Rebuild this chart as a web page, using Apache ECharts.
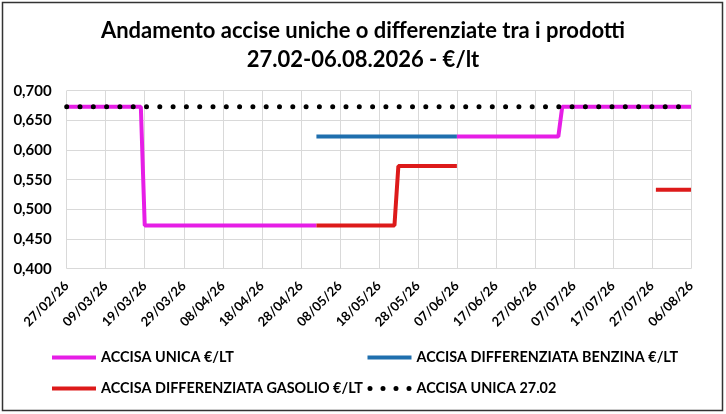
<!DOCTYPE html>
<html>
<head>
<meta charset="utf-8">
<script src="https://cdn.jsdelivr.net/npm/echarts@6/dist/echarts.min.js"></script>
<style>
  html, body { margin: 0; padding: 0; background: #fff; }
  #chart { width: 726px; height: 414px; }
</style>
</head>
<body>
<div id="chart"></div>
<script>
// etichette asse X (ogni 10 giorni)
var tickLabels = ['27/02/26','09/03/26','19/03/26','29/03/26','08/04/26','18/04/26','28/04/26','08/05/26','18/05/26',
                  '28/05/26','07/06/26','17/06/26','27/06/26','07/07/26','17/07/26','27/07/26','06/08/26'];

// ACCISA UNICA €/LT (null = interruzione)
var unicaDates  = ['27/02/26','18/03/26','19/03/26','02/05/26', null, '07/06/26','03/07/26','04/07/26','06/08/26'];
var unicaValues = [0.673, 0.673, 0.473, 0.473, null, 0.623, 0.623, 0.673, 0.673];

// ACCISA DIFFERENZIATA BENZINA €/LT
var benzinaDates  = ['02/05/26','07/06/26'];
var benzinaValues = [0.623, 0.623];

// ACCISA DIFFERENZIATA GASOLIO €/LT
var gasolioDates  = ['02/05/26','22/05/26','23/05/26','07/06/26', null, '28/07/26','06/08/26'];
var gasolioValues = [0.473, 0.473, 0.573, 0.573, null, 0.533, 0.533];

// ACCISA UNICA 27.02
var rifDates  = ['27/02/26','06/08/26'];
var rifValues = [0.673, 0.673];

var FONT = 'Lato';
var START = toUTC('27/02/26');

function toUTC(s) {
    var p = s.split('/');
    return Date.UTC(2000 + parseInt(p[2], 10), parseInt(p[1], 10) - 1, parseInt(p[0], 10));
}
// giorni dal 27/02
function toPoints(dates, values) {
    var out = [];
    for (var i = 0; i < dates.length; i++) {
        if (dates[i] === null || values[i] === null) { out.push(['-', '-']); continue; }
        out.push([Math.round((toUTC(dates[i]) - START) / 86400000), values[i]]);
    }
    return out;
}

var chart = echarts.init(document.getElementById('chart'));
var legendText = { fontFamily: FONT, fontWeight: 'bold', fontSize: 14.4, lineHeight: 16, color: '#000' };
// icona a puntini per la serie di riferimento
var dotIcon = 'path://M0,2.5a2.5,2.5 0 1,0 5,0a2.5,2.5 0 1,0 -5,0Z' +
              'M13,2.5a2.5,2.5 0 1,0 5,0a2.5,2.5 0 1,0 -5,0Z' +
              'M26,2.5a2.5,2.5 0 1,0 5,0a2.5,2.5 0 1,0 -5,0Z' +
              'M39,2.5a2.5,2.5 0 1,0 5,0a2.5,2.5 0 1,0 -5,0Z';
function legendAt(name, left, top, icon, h) {
    return {
        data: [{ name: name, icon: icon || 'rect' }],
        left: left, top: top, padding: 0,
        itemWidth: 44, itemHeight: h || 4, itemGap: 0,
        textStyle: legendText
    };
}

chart.setOption({
    animation: false,
    title: {
        text: 'Andamento accise uniche o differenziate tra i prodotti\n27.02-06.08.2026 - €/lt',
        left: 'center',
        top: 12,
        textStyle: { fontFamily: FONT, fontWeight: 'bold', fontSize: 22, lineHeight: 28.5, color: '#000' }
    },
    graphic: [{
        type: 'rect',
        shape: { x: 2.5, y: 2.5, width: 720, height: 408 },
        style: { fill: 'none', stroke: '#333', lineWidth: 1.5 },
        silent: true
    }],
    grid: { left: 66.7, right: 35, top: 90.7, bottom: 145.3 },
    legend: [
        legendAt('ACCISA UNICA €/LT', 52, 349.5),
        legendAt('ACCISA DIFFERENZIATA BENZINA €/LT', 367.5, 349.5),
        legendAt('ACCISA DIFFERENZIATA GASOLIO €/LT', 52, 380.5),
        legendAt('ACCISA UNICA 27.02', 367.5, 380.5, dotIcon, 5)
    ],
    xAxis: {
        type: 'value',
        min: 0,
        max: 160,
        interval: 10,
        axisLine: { show: false },
        axisTick: { show: false },
        splitLine: { show: true, lineStyle: { color: '#d9d9d9', width: 1 } },
        axisLabel: {
            rotate: 45,
            margin: 15,
            fontFamily: FONT, fontWeight: 'bold', fontSize: 13, color: '#000',
            formatter: function (v) { return tickLabels[Math.round(v / 10)]; }
        }
    },
    yAxis: {
        type: 'value',
        min: 0.4,
        max: 0.7,
        interval: 0.05,
        axisLine: { show: false },
        axisTick: { show: false },
        splitLine: { lineStyle: { color: '#d9d9d9', width: 1 } },
        axisLabel: {
            margin: 15,
            fontFamily: FONT, fontWeight: 'bold', fontSize: 15, color: '#000',
            formatter: function (v) { return v.toFixed(3).replace('.', ','); }
        }
    },
    series: [
        {
            name: 'ACCISA UNICA €/LT', type: 'line', symbol: 'none',
            data: toPoints(unicaDates, unicaValues),
            color: '#e61ee6',
            lineStyle: { width: 4, color: '#e61ee6' }
        },
        {
            name: 'ACCISA DIFFERENZIATA BENZINA €/LT', type: 'line', symbol: 'none',
            data: toPoints(benzinaDates, benzinaValues),
            color: '#1f6fae',
            lineStyle: { width: 4, color: '#1f6fae' }
        },
        {
            name: 'ACCISA DIFFERENZIATA GASOLIO €/LT', type: 'line', symbol: 'none',
            data: toPoints(gasolioDates, gasolioValues),
            color: '#dd1a1a',
            lineStyle: { width: 4, color: '#dd1a1a' }
        },
        {
            name: 'ACCISA UNICA 27.02', type: 'line', symbol: 'none',
            data: toPoints(rifDates, rifValues),
            color: '#000',
            lineStyle: { width: 5, color: '#000', type: [0, 13.3], cap: 'round' }
        }
    ]
});
</script>
</body>
</html>
